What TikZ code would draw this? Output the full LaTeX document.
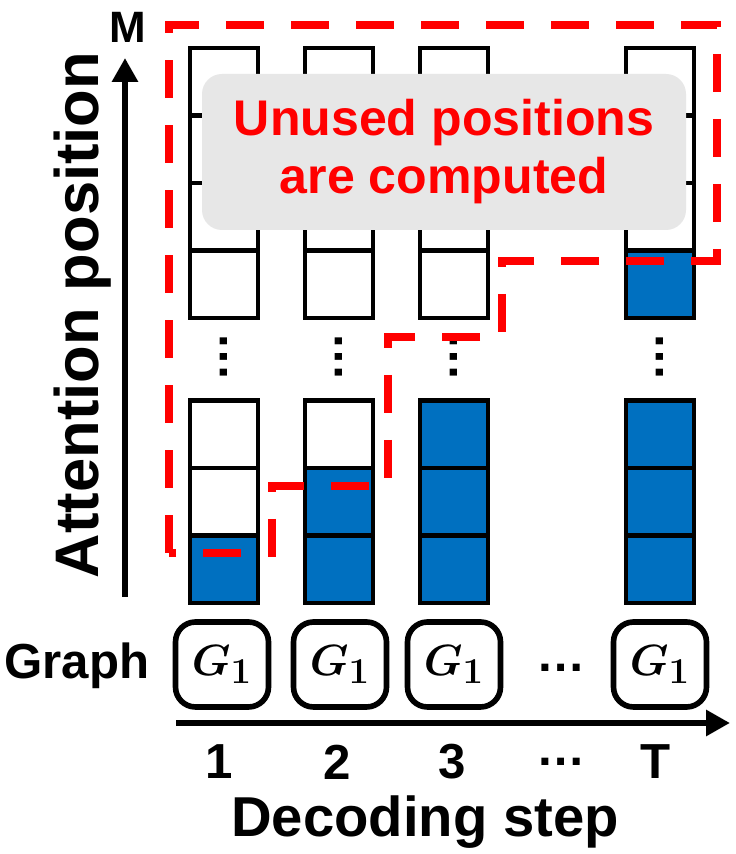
\documentclass[tikz,border=0pt]{standalone}
\usepackage{fontspec}
\setmainfont{Liberation Sans}
\usetikzlibrary{arrows.meta}
\definecolor{myblue}{HTML}{0070C0}
\definecolor{mygray}{HTML}{E7E7E7}

\begin{document}
\begin{tikzpicture}[
    mycell/.style={rectangle, draw=black, line width=2.3pt, fill=white, minimum width=1.36cm, minimum height=1.35cm, inner sep=0pt},
    myfill/.style={mycell, fill=myblue},
    mygraph/.style={rectangle, draw=black, line width=3.2pt, rounded corners=0.4cm, minimum width=1.86cm, minimum height=1.7cm, font=\boldmath\fontsize{28}{32}\selectfont},
    mylabel/.style={font=\bfseries\fontsize{28}{32}\selectfont, inner sep=0pt},
    mydots/.style={mylabel, rotate=90},
    myarrow/.style={-{Triangle[length=0.48cm, width=0.5cm]}, line width=3.4pt},
    mydash/.style={red, line width=5pt, dash pattern=on 0.76cm off 0.54cm}
]
    \useasboundingbox (0,0) rectangle (14.72,17.08);

    % Step 1
    \node[myfill] (a1) at (4.48, 5.695) {};
    \node[mycell] (a2) at (4.48, 7.045) {};
    \node[mycell] (a3) at (4.48, 8.395) {};
    \node[mycell] (a4) at (4.48, 11.395) {};
    \node[mycell] (a5) at (4.48, 12.745) {};
    \node[mycell] (a6) at (4.48, 14.095) {};
    \node[mycell] (a7) at (4.48, 15.445) {};
    \node[mydots] (da) at (4.48, 9.94) {…};

    % Step 2
    \node[myfill] (b1) at (6.78, 5.695) {};
    \node[myfill] (b2) at (6.78, 7.045) {};
    \node[mycell] (b3) at (6.78, 8.395) {};
    \node[mycell] (b4) at (6.78, 11.395) {};
    \node[mycell] (b5) at (6.78, 12.745) {};
    \node[mycell] (b6) at (6.78, 14.095) {};
    \node[mycell] (b7) at (6.78, 15.445) {};
    \node[mydots] (db) at (6.78, 9.94) {…};

    % Step 3
    \node[myfill] (c1) at (9.08, 5.695) {};
    \node[myfill] (c2) at (9.08, 7.045) {};
    \node[myfill] (c3) at (9.08, 8.395) {};
    \node[mycell] (c4) at (9.08, 11.395) {};
    \node[mycell] (c5) at (9.08, 12.745) {};
    \node[mycell] (c6) at (9.08, 14.095) {};
    \node[mycell] (c7) at (9.08, 15.445) {};
    \node[mydots] (dc) at (9.08, 9.94) {…};

    % Step T
    \node[myfill] (t1) at (13.2, 5.695) {};
    \node[myfill] (t2) at (13.2, 7.045) {};
    \node[myfill] (t3) at (13.2, 8.395) {};
    \node[myfill] (t4) at (13.2, 11.395) {};
    \node[mycell] (t5) at (13.2, 12.745) {};
    \node[mycell] (t6) at (13.2, 14.095) {};
    \node[mycell] (t7) at (13.2, 15.445) {};
    \node[mydots] (dt) at (13.2, 9.94) {…};

    % Note
    \node[rectangle, fill=mygray, rounded corners=0.4cm, minimum width=9.68cm, minimum height=3.12cm] (note) at (8.88, 14.04) {};
    \node[align=center, text=red, font=\bfseries\fontsize{28.5}{33}\selectfont] (notetext) at (note.center) {Unused positions\\are computed};

    % Graphs
    \node[mylabel] (glabel) at (1.54, 3.76) {Graph};
    \node[mygraph] (g1) at (4.44, 3.79) {$G_1$};
    \node[mygraph] (g2) at (6.8, 3.79) {$G_1$};
    \node[mygraph] (g3) at (9.08, 3.79) {$G_1$};
    \node[mylabel] (gdots) at (11.22, 3.72) {…};
    \node[mygraph] (gt) at (13.2, 3.79) {$G_1$};

    % Axes
    \coordinate (xo) at (3.52, 2.62);
    \coordinate (xe) at (14.6, 2.62);
    \draw[myarrow] (xo) -- (xe);
    \coordinate (yo) at (2.5, 5.14);
    \coordinate (ye) at (2.5, 15.92);
    \draw[myarrow] (yo) -- (ye);

    \node[mylabel] (s1) at (4.38, 1.84) {1};
    \node[mylabel] (s2) at (6.74, 1.84) {2};
    \node[mylabel] (s3) at (9.04, 1.84) {3};
    \node[mylabel] (sdots) at (11.22, 1.84) {…};
    \node[mylabel] (st) at (13.12, 1.84) {T};
    \node[font=\bfseries\fontsize{32}{36}\selectfont, inner sep=0pt] (xlabel) at (8.5, 0.64) {Decoding step};

    \node[font=\bfseries\fontsize{25}{28}\selectfont, inner sep=0pt] (ylabelm) at (2.56, 16.54) {M};
    \node[font=\bfseries\fontsize{35}{40}\selectfont, inner sep=0pt, rotate=90] (ylabel) at (1.66, 10.78) {Attention position};

    % Computed region
    \draw[mydash] (3.38, 6.02) -- (3.38, 16.58) -- (14.34, 16.58) -- (14.34, 11.86) -- (10.04, 11.86)
        -- (10.04, 10.34) -- (7.76, 10.34) -- (7.76, 7.36) -- (5.44, 7.36) -- (5.44, 6.02) -- cycle;
\end{tikzpicture}
\end{document}
